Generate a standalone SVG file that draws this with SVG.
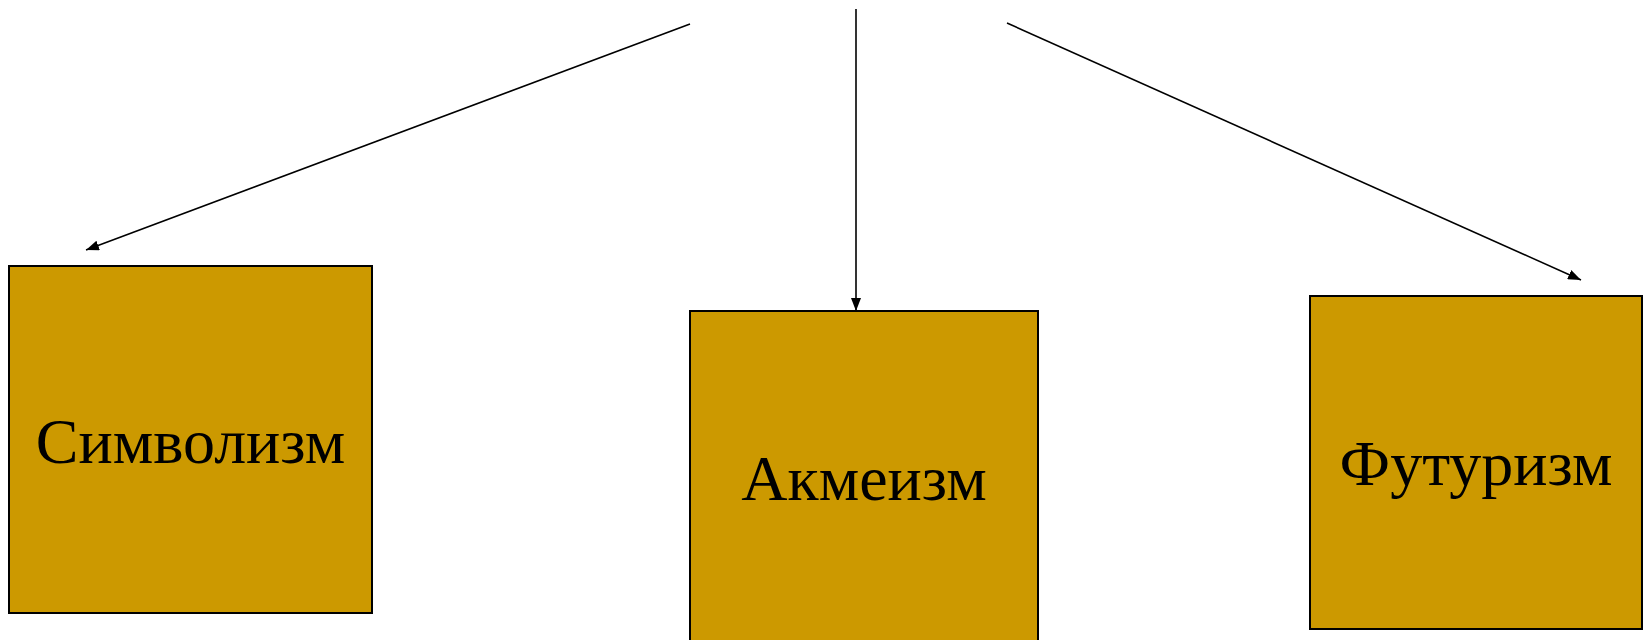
<svg xmlns="http://www.w3.org/2000/svg" width="1649" height="640" viewBox="0 0 1649 640">
  <style>
    .box { fill: #CC9900; stroke: #000; stroke-width: 2; }
    .label { font-family: "Liberation Serif", "Times New Roman", serif; font-size: 64px; fill: #000; text-anchor: middle; }
    .link { stroke: #000; stroke-width: 1.6; fill: none; marker-end: url(#arrow); }
  </style>
  <defs>
    <marker id="arrow" markerUnits="userSpaceOnUse" markerWidth="14" markerHeight="10" refX="13" refY="5" orient="auto">
      <path d="M0,0 L13,5 L0,10 Z" fill="#000"/>
    </marker>
  </defs>
  <rect width="1649" height="640" fill="#fff"/>

  <g id="connectors">
    <line class="link" x1="690" y1="24" x2="86" y2="250"/>
    <line class="link" x1="856" y1="9" x2="856" y2="311"/>
    <line class="link" x1="1007" y1="23" x2="1581" y2="280"/>
  </g>

  <g id="node-symbolism">
    <rect class="box" x="9" y="266" width="363" height="347"/>
    <text class="label" x="190.5" y="463">Символизм</text>
  </g>

  <g id="node-acmeism">
    <rect class="box" x="690" y="311" width="348" height="340"/>
    <text class="label" x="864" y="500">Акмеизм</text>
  </g>

  <g id="node-futurism">
    <rect class="box" x="1310" y="296" width="332" height="333"/>
    <text class="label" x="1476" y="485">Футуризм</text>
  </g>
</svg>
